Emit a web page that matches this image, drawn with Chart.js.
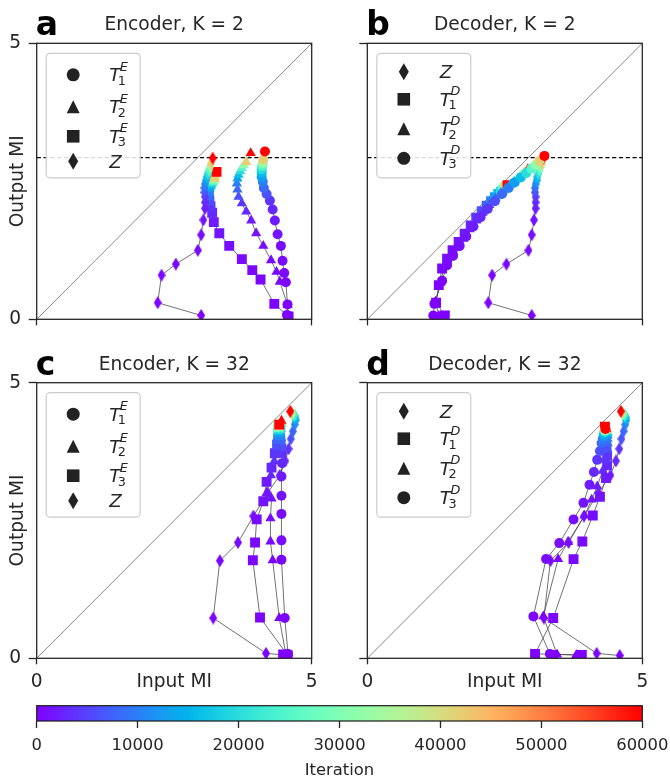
<!DOCTYPE html>
<html>
<head>
<meta charset="utf-8">
<script src="https://cdn.jsdelivr.net/npm/chart.js@4.4.1/dist/chart.umd.min.js"></script>
<style>
html,body{margin:0;padding:0;background:#fff;}
#wrap{position:relative;width:670px;height:783px;overflow:hidden;background:#fff;}
#wrap canvas{position:absolute;left:0;top:0;}
</style>
</head>
<body>
<div id="wrap">
<canvas id="cA" width="670" height="783"></canvas>
<canvas id="cB" width="670" height="783"></canvas>
<canvas id="cC" width="670" height="783"></canvas>
<canvas id="cD" width="670" height="783"></canvas>
<canvas id="cBar" width="670" height="783"></canvas>
</div>
<script>
// ---------------- data ----------------
const iterations = [0,200,400,600,800,1000,1500,2000,3000,4000,6000,8000,10000,13000,16000,20000,25000,32000,42000,60000];
const maxIteration = 60000;
const colorbarTicks = [0,10000,20000,30000,40000,50000,60000];
const axisTicks = [0,5];
const axisRange = [0,5];
const diagonalLine = [[0,0],[5,5]];
const referenceMI = 2.93;

// a: Encoder, K = 2
const encK2_T1 = [[4.55,0.08],[4.56,0.27],[4.53,0.67],[4.50,0.84],[4.47,1.06],[4.44,1.33],[4.38,1.54],[4.33,1.79],[4.29,1.99],[4.24,2.15],[4.18,2.27],[4.13,2.38],[4.11,2.49],[4.09,2.58],[4.09,2.66],[4.09,2.72],[4.10,2.78],[4.11,2.83],[4.12,2.89],[4.15,3.04]];
const encK2_T2 = [[4.57,0.06],[4.56,0.26],[4.42,0.68],[4.36,0.86],[4.26,1.07],[4.12,1.33],[3.99,1.56],[3.90,1.79],[3.81,1.95],[3.73,2.10],[3.67,2.22],[3.65,2.35],[3.64,2.46],[3.65,2.55],[3.67,2.62],[3.70,2.68],[3.73,2.74],[3.77,2.79],[3.81,2.85],[3.89,3.01]];
const encK2_T3 = [[4.58,0.05],[4.32,0.28],[4.07,0.72],[3.92,0.89],[3.73,1.09],[3.50,1.33],[3.32,1.56],[3.22,1.76],[3.19,1.93],[3.16,2.05],[3.14,2.15],[3.13,2.25],[3.13,2.33],[3.14,2.40],[3.16,2.45],[3.18,2.49],[3.20,2.52],[3.22,2.55],[3.23,2.58],[3.27,2.67]];
const K2_Z = [[2.99,0.07],[2.20,0.30],[2.27,0.80],[2.53,1.00],[2.93,1.25],[2.99,1.53],[3.03,1.80],[3.06,2.01],[3.06,2.12],[3.06,2.22],[3.05,2.30],[3.05,2.38],[3.06,2.45],[3.08,2.52],[3.09,2.58],[3.11,2.64],[3.13,2.70],[3.15,2.76],[3.17,2.82],[3.20,2.92]];

// b: Decoder, K = 2
const decK2_T1 = [[1.41,0.07],[1.25,0.30],[1.30,0.62],[1.36,0.92],[1.45,1.10],[1.55,1.25],[1.66,1.40],[1.77,1.55],[1.88,1.70],[1.98,1.84],[2.08,1.96],[2.17,2.06],[2.25,2.14],[2.32,2.21],[2.38,2.27],[2.43,2.31],[2.47,2.35],[2.50,2.38],[2.52,2.40],[2.55,2.43]];
const decK2_T2 = [[1.30,0.06],[1.24,0.32],[1.33,0.66],[1.40,0.95],[1.50,1.12],[1.62,1.30],[1.74,1.46],[1.86,1.63],[1.98,1.79],[2.10,1.94],[2.22,2.07],[2.33,2.19],[2.43,2.29],[2.52,2.37],[2.60,2.44],[2.67,2.50],[2.74,2.56],[2.80,2.62],[2.85,2.66],[2.92,2.72]];
const decK2_T3 = [[1.20,0.07],[1.22,0.28],[1.36,0.70],[1.45,0.98],[1.56,1.15],[1.68,1.33],[1.80,1.50],[1.93,1.68],[2.06,1.85],[2.19,2.00],[2.32,2.14],[2.45,2.27],[2.57,2.38],[2.68,2.48],[2.79,2.57],[2.89,2.65],[2.98,2.73],[3.06,2.80],[3.13,2.87],[3.22,2.96]];

// c: Encoder, K = 32
const encK32_T1 = [[4.55,0.06],[4.57,0.08],[4.51,0.73],[4.45,1.79],[4.45,2.14],[4.45,2.62],[4.45,2.95],[4.45,3.30],[4.46,3.54],[4.46,3.72],[4.45,3.85],[4.44,3.95],[4.43,4.02],[4.42,4.08],[4.41,4.12],[4.40,4.15],[4.40,4.17],[4.40,4.19],[4.41,4.20],[4.42,4.22]];
const encK32_T2 = [[4.50,0.06],[4.53,0.07],[4.41,0.73],[4.29,1.78],[4.25,2.12],[4.25,2.54],[4.27,2.90],[4.18,3.00],[4.26,3.32],[4.32,3.58],[4.36,3.78],[4.39,3.93],[4.41,4.03],[4.43,4.11],[4.44,4.17],[4.44,4.22],[4.45,4.25],[4.45,4.28],[4.45,4.29],[4.45,4.31]];
const encK32_T3 = [[4.48,0.07],[4.56,0.06],[4.06,0.74],[3.93,1.78],[3.97,2.10],[4.00,2.52],[4.12,2.85],[4.18,3.20],[4.27,3.46],[4.33,3.72],[4.37,3.88],[4.39,3.98],[4.40,4.05],[4.40,4.10],[4.40,4.14],[4.40,4.17],[4.40,4.19],[4.40,4.21],[4.41,4.23],[4.41,4.24]];
const K32_Z = [[4.59,0.05],[4.17,0.09],[3.21,0.73],[3.33,1.77],[3.66,2.10],[3.94,2.58],[4.20,3.00],[4.42,3.32],[4.52,3.58],[4.58,3.80],[4.62,3.98],[4.66,4.12],[4.69,4.24],[4.71,4.32],[4.70,4.37],[4.69,4.40],[4.67,4.42],[4.65,4.44],[4.63,4.46],[4.61,4.48]];

// d: Decoder, K = 32
const decK32_T1 = [[3.90,0.06],[3.05,0.08],[3.38,0.73],[3.75,1.80],[3.91,2.12],[4.10,2.59],[4.23,2.93],[4.34,3.27],[4.36,3.50],[4.36,3.68],[4.35,3.82],[4.34,3.93],[4.33,4.01],[4.33,4.07],[4.32,4.11],[4.32,4.14],[4.32,4.16],[4.32,4.17],[4.32,4.18],[4.32,4.20]];
const decK32_T2 = [[3.80,0.06],[3.45,0.07],[3.20,0.76],[3.47,1.80],[3.65,2.11],[3.95,2.59],[4.08,2.88],[4.18,3.12],[4.28,3.40],[4.33,3.60],[4.36,3.78],[4.37,3.90],[4.37,3.98],[4.37,4.04],[4.37,4.08],[4.36,4.11],[4.36,4.13],[4.35,4.14],[4.35,4.15],[4.35,4.16]];
const decK32_T3 = [[3.40,0.06],[3.32,0.08],[3.02,0.76],[3.25,1.80],[3.49,2.09],[3.75,2.52],[3.93,2.82],[4.04,3.15],[4.12,3.38],[4.18,3.60],[4.23,3.76],[4.26,3.90],[4.28,3.98],[4.30,4.04],[4.31,4.08],[4.32,4.11],[4.32,4.13],[4.33,4.14],[4.33,4.15],[4.33,4.16]];

const panelLetters = ['a','b','c','d'];
const panelTitles = ['Encoder, K = 2','Decoder, K = 2','Encoder, K = 32','Decoder, K = 32'];
const xAxisTitle = 'Input MI';
const yAxisTitle = 'Output MI';
const colorbarTitle = 'Iteration';

// ---------------- styling ----------------
const FONT = '"DejaVu Sans", "Liberation Sans", sans-serif';
const INK = '#262626';
const PAGE_W = 670, PAGE_H = 783;
const Y_W = 36;
const FS = 18.6;

function rainbow(t) {
  t = Math.max(0, Math.min(1, t));
  const r = Math.min(1, Math.abs(2 * t - 0.5));
  const g = Math.max(0, Math.sin(Math.PI * t));
  const b = Math.max(0, Math.cos(Math.PI * t / 2));
  return 'rgb(' + Math.round(r * 255) + ',' + Math.round(g * 255) + ',' + Math.round(b * 255) + ')';
}
function iterColor(i) { return rainbow(iterations[i] / maxIteration); }

const spriteCache = {};
function diamondSprite(color, w, h) {
  const key = color + '|' + w + 'x' + h;
  if (!spriteCache[key]) {
    const c = document.createElement('canvas');
    c.width = w; c.height = h;
    const g = c.getContext('2d');
    g.fillStyle = color;
    g.beginPath();
    g.moveTo(w / 2, 0); g.lineTo(w, h / 2); g.lineTo(w / 2, h); g.lineTo(0, h / 2);
    g.closePath(); g.fill();
    spriteCache[key] = c;
  }
  return spriteCache[key];
}

const toPts = arr => arr.map(p => ({x: p[0], y: p[1]}));

function markerDataset(s) {
  const d = {
    data: toPts(s.data),
    showLine: false,
    pointBorderWidth: 0,
    pointBackgroundColor: c => iterColor(c.dataIndex),
  };
  if (s.marker === 'circle') { d.pointStyle = 'circle'; d.pointRadius = 5; }
  else if (s.marker === 'triangle') { d.pointStyle = 'triangle'; d.pointRadius = 5.9; }
  else if (s.marker === 'square') { d.pointStyle = 'rect'; d.pointRadius = 7; }
  else { d.pointStyle = c => diamondSprite(iterColor(c.dataIndex), 8, 13); d.pointRadius = 6.5; }
  return d;
}

function drawLegendMarker(ctx, kind, x, y) {
  ctx.fillStyle = '#222';
  ctx.beginPath();
  if (kind === 'circle') ctx.arc(x, y, 6.5, 0, Math.PI * 2);
  else if (kind === 'triangle') { ctx.moveTo(x, y - 6.5); ctx.lineTo(x + 6.5, y + 6.5); ctx.lineTo(x - 6.5, y + 6.5); ctx.closePath(); }
  else if (kind === 'square') ctx.rect(x - 6.3, y - 6.3, 12.6, 12.6);
  else { ctx.moveTo(x, y - 8.5); ctx.lineTo(x + 5, y); ctx.lineTo(x, y + 8.5); ctx.lineTo(x - 5, y); ctx.closePath(); }
  ctx.fill();
}

const panelDecor = {
  id: 'panelDecor',
  afterDatasetsDraw(chart) {
    const {ctx, chartArea: ca} = chart;
    ctx.save();
    ctx.strokeStyle = INK;
    ctx.lineWidth = 1.3;
    ctx.strokeRect(ca.left, ca.top, ca.right - ca.left, ca.bottom - ca.top);
    ctx.restore();
  },
  afterDraw(chart, args, o) {
    const {ctx, chartArea: ca} = chart;
    ctx.save();
    ctx.fillStyle = '#000';
    ctx.font = 'bold 33px ' + FONT;
    ctx.textAlign = 'left'; ctx.textBaseline = 'alphabetic';
    ctx.fillText(o.letter, ca.left - 1, ca.top - 8);
    ctx.fillStyle = INK;
    ctx.font = FS + 'px ' + FONT;
    ctx.textAlign = 'center';
    ctx.fillText(o.title, (ca.left + ca.right) / 2, ca.top - 13);
    const bx = ca.left + 9.5, by = ca.top + 10, bw = 94, bh = 124.5, r = 4;
    ctx.beginPath();
    ctx.moveTo(bx + r, by); ctx.lineTo(bx + bw - r, by); ctx.arcTo(bx + bw, by, bx + bw, by + r, r);
    ctx.lineTo(bx + bw, by + bh - r); ctx.arcTo(bx + bw, by + bh, bx + bw - r, by + bh, r);
    ctx.lineTo(bx + r, by + bh); ctx.arcTo(bx, by + bh, bx, by + bh - r, r);
    ctx.lineTo(bx, by + r); ctx.arcTo(bx, by, bx + r, by, r); ctx.closePath();
    ctx.fillStyle = 'rgba(255,255,255,0.85)';
    ctx.fill();
    ctx.strokeStyle = '#cccccc'; ctx.lineWidth = 1.2; ctx.stroke();
    o.entries.forEach((e, i) => {
      const yc = by + o.rows[i];
      drawLegendMarker(ctx, e.marker, bx + 27, yc);
      const tx = bx + 63;
      ctx.fillStyle = INK; ctx.textAlign = 'left'; ctx.textBaseline = 'alphabetic';
      ctx.font = 'italic 18.3px ' + FONT;
      ctx.fillText(e.base, tx, yc + 6.5);
      if (e.sub) {
        const tw = ctx.measureText(e.base).width;
        ctx.font = 'italic 12.8px ' + FONT;
        ctx.fillText(e.sup, tx + tw - 0.5, yc - 4);
        ctx.font = '12.8px ' + FONT;
        ctx.fillText(e.sub, tx + tw - 2.5, yc + 10);
      }
    });
    ctx.restore();
  }
};

const encLegend = [
  {marker: 'circle', base: 'T', sub: '1', sup: 'E'},
  {marker: 'triangle', base: 'T', sub: '2', sup: 'E'},
  {marker: 'square', base: 'T', sub: '3', sup: 'E'},
  {marker: 'diamond', base: 'Z'}
];
const decLegend = [
  {marker: 'diamond', base: 'Z'},
  {marker: 'square', base: 'T', sub: '1', sup: 'D'},
  {marker: 'triangle', base: 'T', sub: '2', sup: 'D'},
  {marker: 'circle', base: 'T', sub: '3', sup: 'D'}
];
const encRows = [21.5, 53.5, 83, 108];
const decRows = [18.5, 46, 75.5, 105];

function fixTicks(list) { return scale => { scale.ticks = list.map(v => ({value: v})); }; }

function makePanel(id, idx, area, opt) {
  const datasets = [];
  const add = d => { d.order = -datasets.length; datasets.push(d); };
  add({data: toPts(diagonalLine), showLine: true, borderColor: '#8a8a8a', borderWidth: 1, pointRadius: 0});
  if (opt.refLine) add({data: [{x: axisRange[0], y: referenceMI}, {x: axisRange[1], y: referenceMI}], showLine: true, borderColor: '#000', borderWidth: 1.3, borderDash: [4.2, 2.6], pointRadius: 0});
  opt.series.forEach(s => add({data: toPts(s.data), showLine: true, borderColor: 'rgba(70,70,70,0.85)', borderWidth: 0.9, pointRadius: 0}));
  opt.series.forEach(s => add(markerDataset(s)));
  const xh = opt.xLabels ? 40 : 20;
  new Chart(document.getElementById(id), {
    type: 'scatter',
    data: {datasets},
    options: {
      responsive: false, animation: false, events: [], devicePixelRatio: 1,
      layout: {padding: {left: area.left - Y_W, top: area.top, right: PAGE_W - area.right, bottom: PAGE_H - area.bottom - xh}},
      plugins: {
        legend: {display: false}, tooltip: {enabled: false},
        panelDecor: {letter: panelLetters[idx], title: panelTitles[idx], entries: opt.legend, rows: opt.rows}
      },
      scales: {
        x: {
          type: 'linear', position: 'bottom', min: axisRange[0], max: axisRange[1],
          afterBuildTicks: fixTicks(axisTicks),
          afterFit: s => { s.height = xh; s.paddingLeft = 0; s.paddingRight = 0; },
          ticks: {display: opt.xLabels, color: INK, font: {family: FONT, size: FS}, padding: 7, maxRotation: 0, autoSkip: false},
          grid: {drawOnChartArea: false, drawTicks: true, tickLength: 6, tickColor: INK, tickWidth: 1.3},
          border: {display: false},
          title: {display: opt.xLabels, text: xAxisTitle, color: INK, font: {family: FONT, size: FS}, padding: {top: 0, bottom: 4.7}}
        },
        y: {
          type: 'linear', position: 'left', min: axisRange[0], max: axisRange[1],
          afterBuildTicks: fixTicks(axisTicks),
          afterFit: s => { s.width = Y_W; s.paddingTop = 0; s.paddingBottom = 0; },
          ticks: {display: opt.yLabels, color: INK, font: {family: FONT, size: FS}, padding: 7.5, autoSkip: false},
          grid: {drawOnChartArea: false, drawTicks: true, tickLength: 8, tickColor: INK, tickWidth: 1.3},
          border: {display: false},
          title: {display: opt.yLabels, text: yAxisTitle, color: INK, font: {family: FONT, size: FS}, padding: {top: 6.5, bottom: 0}}
        }
      }
    },
    plugins: [panelDecor]
  });
}

const areaA = {left: 36.7, top: 43.3, right: 311.7, bottom: 319.3};
const areaB = {left: 367.3, top: 43.3, right: 642.3, bottom: 319.3};
const areaC = {left: 36.7, top: 382.7, right: 311.7, bottom: 658.3};
const areaD = {left: 367.3, top: 382.7, right: 642.3, bottom: 658.3};

makePanel('cA', 0, areaA, {refLine: true, xLabels: false, yLabels: true, legend: encLegend, rows: encRows,
  series: [{data: encK2_T1, marker: 'circle'}, {data: encK2_T2, marker: 'triangle'}, {data: encK2_T3, marker: 'square'}, {data: K2_Z, marker: 'diamond'}]});
makePanel('cB', 1, areaB, {refLine: true, xLabels: false, yLabels: false, legend: decLegend, rows: decRows,
  series: [{data: K2_Z, marker: 'diamond'}, {data: decK2_T1, marker: 'square'}, {data: decK2_T2, marker: 'triangle'}, {data: decK2_T3, marker: 'circle'}]});
makePanel('cC', 2, areaC, {refLine: false, xLabels: true, yLabels: true, legend: encLegend, rows: encRows,
  series: [{data: encK32_T1, marker: 'circle'}, {data: encK32_T2, marker: 'triangle'}, {data: encK32_T3, marker: 'square'}, {data: K32_Z, marker: 'diamond'}]});
makePanel('cD', 3, areaD, {refLine: false, xLabels: true, yLabels: false, legend: decLegend, rows: decRows,
  series: [{data: K32_Z, marker: 'diamond'}, {data: decK32_T1, marker: 'square'}, {data: decK32_T2, marker: 'triangle'}, {data: decK32_T3, marker: 'circle'}]});

// ---------------- colorbar ----------------
const barArea = {left: 36.7, top: 705.7, right: 642.3, bottom: 721};
const CB_XH = 62;
const barFrame = {
  id: 'barFrame',
  afterDatasetsDraw(chart) {
    const {ctx, chartArea: ca} = chart;
    ctx.save(); ctx.strokeStyle = '#1a1a1a'; ctx.lineWidth = 1.2;
    ctx.strokeRect(ca.left, ca.top, ca.right - ca.left, ca.bottom - ca.top);
    ctx.restore();
  }
};
new Chart(document.getElementById('cBar'), {
  type: 'bar',
  data: {labels: [colorbarTitle], datasets: [{
    data: [[0, maxIteration]],
    borderWidth: 0, barPercentage: 1, categoryPercentage: 1,
    backgroundColor: c => {
      const ch = c.chart; const xs = ch.scales.x;
      if (!ch.chartArea || !xs) return rainbow(0);
      const x0 = xs.getPixelForValue(0), x1 = xs.getPixelForValue(maxIteration);
      const g = ch.ctx.createLinearGradient(x0, 0, x1, 0);
      for (let i = 0; i <= 40; i++) g.addColorStop(i / 40, rainbow(i / 40));
      return g;
    }
  }]},
  options: {
    indexAxis: 'y', responsive: false, animation: false, events: [], devicePixelRatio: 1,
    layout: {padding: {left: barArea.left, right: PAGE_W - barArea.right, top: barArea.top, bottom: PAGE_H - barArea.bottom - CB_XH}},
    plugins: {legend: {display: false}, tooltip: {enabled: false}},
    scales: {
      x: {
        type: 'linear', position: 'bottom', min: 0, max: maxIteration,
        afterBuildTicks: fixTicks(colorbarTicks),
        afterFit: s => { s.height = CB_XH; s.paddingLeft = 0; s.paddingRight = 0; },
        ticks: {color: INK, font: {family: FONT, size: 16.4}, padding: 7.7, maxRotation: 0, autoSkip: false, callback: v => String(v)},
        grid: {drawOnChartArea: false, drawTicks: true, tickLength: 7, tickColor: INK, tickWidth: 1.3},
        border: {display: false},
        title: {display: true, text: colorbarTitle, color: INK, font: {family: FONT, size: 16.4}, padding: {top: 0, bottom: 2.2}}
      },
      y: {display: false}
    }
  },
  plugins: [barFrame]
});
</script>
</body>
</html>
